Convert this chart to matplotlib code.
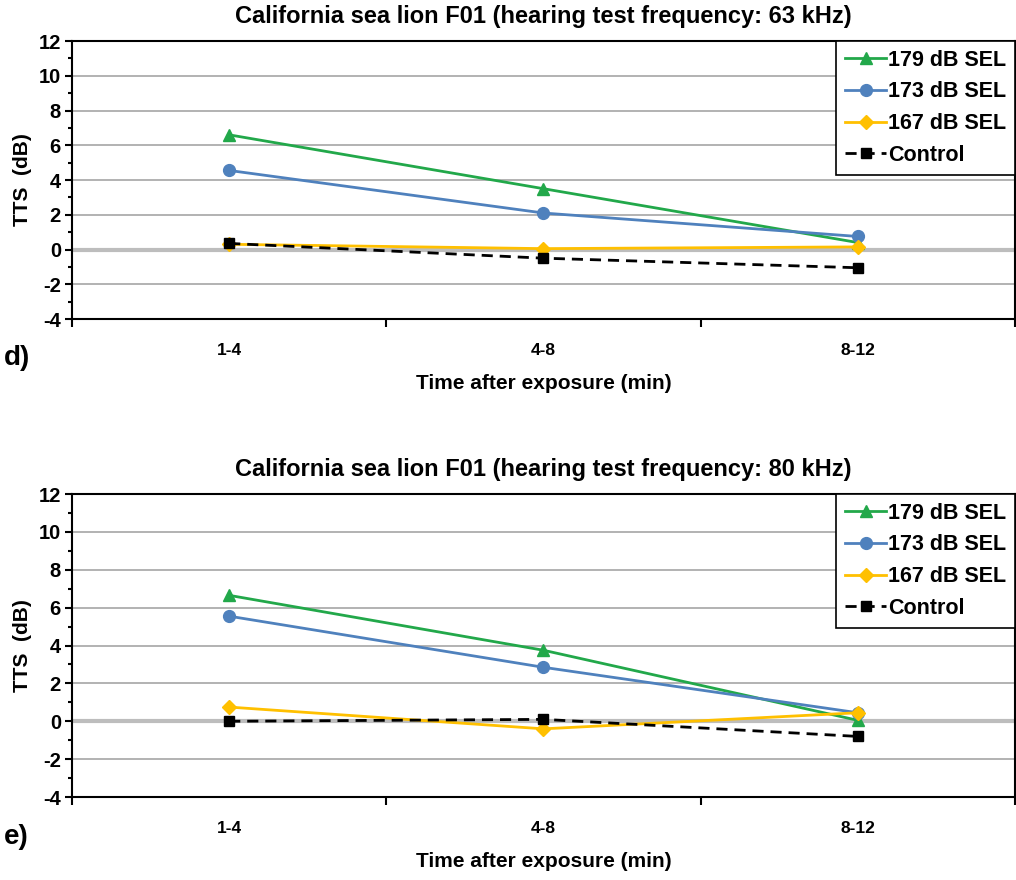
import numpy as np
import matplotlib
matplotlib.use("Agg")
import matplotlib.pyplot as plt
from matplotlib.ticker import MultipleLocator

plt.rcParams['font.family'] = ['Liberation Sans', 'DejaVu Sans']
plt.rcParams['font.weight'] = 'bold'
plt.rcParams['axes.unicode_minus'] = False

categorie = ["1-4", "4-8", "8-12"]
serie = ["179 dB SEL", "173 dB SEL", "167 dB SEL", "Control"]

# pannello d) 63 kHz
d_179 = [6.6, 3.5, 0.4]
d_173 = [4.55, 2.1, 0.75]
d_167 = [0.3, 0.05, 0.15]
d_ctrl = [0.35, -0.5, -1.05]

# pannello e) 80 kHz
e_179 = [6.65, 3.75, 0.05]
e_173 = [5.55, 2.85, 0.45]
e_167 = [0.75, -0.4, 0.45]
e_ctrl = [0.0, 0.1, -0.8]

titoli = ["California sea lion F01 (hearing test frequency: 63 kHz)",
          "California sea lion F01 (hearing test frequency: 80 kHz)"]
lettere = ["d)", "e)"]

stili = [
    dict(color="#22a84a", marker="^", ms=9, ls="-"),
    dict(color="#4f81bd", marker="o", ms=8.5, ls="-"),
    dict(color="#ffc000", marker="D", ms=7, ls="-"),
    dict(color="black", marker="s", ms=6.5, ls=(0, (4, 2.5))),
]

fig = plt.figure(figsize=(10.16, 8.8), dpi=100)
posizioni = [[0.0709, 0.6375, 0.928, 0.3159], [0.0709, 0.0943, 0.928, 0.3443]]
dati = [[d_179, d_173, d_167, d_ctrl], [e_179, e_173, e_167, e_ctrl]]
x = np.arange(len(categorie))

for k in range(2):
    ax = fig.add_axes(posizioni[k])
    for yy in range(-4, 13, 2):
        if yy == 0:
            ax.axhline(0, color="#bdbdbd", lw=3, zorder=1)
        else:
            ax.axhline(yy, color="#a6a6a6", lw=1.2, zorder=1)
    for nome, valori, st in zip(serie, dati[k], stili):
        ax.plot(x, valori, label=nome, lw=2, zorder=3, **st)
    ax.set_xlim(-0.5, 2.5)
    ax.set_ylim(-4, 12)
    ax.yaxis.set_major_locator(MultipleLocator(2))
    ax.yaxis.set_minor_locator(MultipleLocator(1))
    ax.set_xticks([-0.5, 0.5, 1.5, 2.5])
    ax.set_xticklabels([])
    ax.set_xticks(x, minor=True)
    ax.set_xticklabels(categorie, minor=True, fontsize=12.5, fontweight="bold")
    ax.tick_params(axis="x", which="minor", length=0, pad=17)
    ax.tick_params(axis="x", which="major", length=6, width=1.5)
    ax.tick_params(axis="y", which="major", length=5, width=1.5, labelsize=14.5, pad=3)
    ax.tick_params(axis="y", which="minor", length=3, width=1.5)
    for s in ax.spines.values():
        s.set_linewidth(1.5)
    ax.set_ylabel("TTS  (dB)", fontsize=15, fontweight="bold", labelpad=5)
    ax.set_xlabel("Time after exposure (min)", fontsize=15, fontweight="bold", labelpad=12)
    ax.set_title(titoli[k], fontsize=17, fontweight="bold", pad=13)
    leg = ax.legend(loc="upper right", borderaxespad=0, fontsize=15.5, fancybox=False,
                    framealpha=1, edgecolor="black", handlelength=1.9,
                    handletextpad=0.1, labelspacing=0.5, borderpad=0.4)
    leg.get_frame().set_linewidth(1.2)
    for t in leg.get_texts():
        t.set_fontweight("bold")

fig.text(0.004, 0.585, lettere[0], fontsize=20, fontweight="bold")
fig.text(0.004, 0.041, lettere[1], fontsize=20, fontweight="bold")

fig.savefig("out.png", dpi=100)
